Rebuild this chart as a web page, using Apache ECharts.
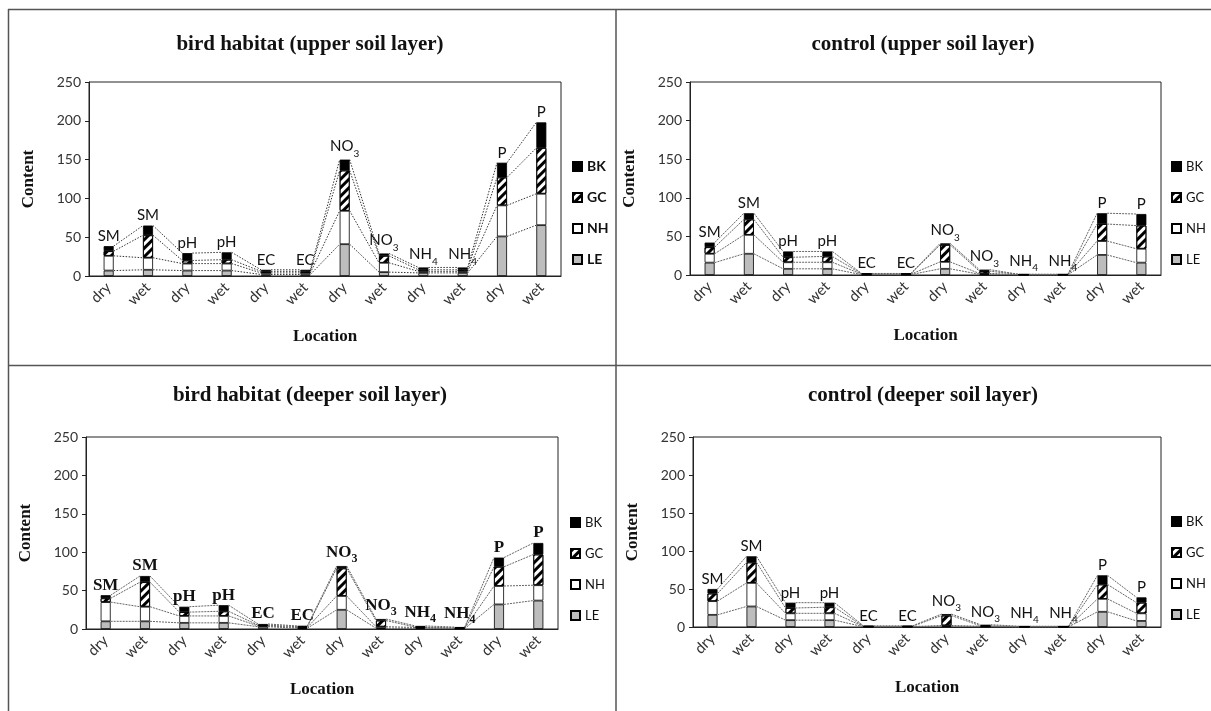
<!DOCTYPE html>
<html>
<head>
<meta charset="utf-8">
<script src="https://cdn.jsdelivr.net/npm/echarts@6/dist/echarts.min.js"></script>
<style>
html,body{margin:0;padding:0;background:#fff;}
#chart{width:1211px;height:711px;}
</style>
</head>
<body>
<div id="chart"></div>
<script>
// ---------- data ----------
const categories = ['dry','wet','dry','wet','dry','wet','dry','wet','dry','wet','dry','wet'];
const labelBase = ['SM','SM','pH','pH','EC','EC','NO','NO','NH','NH','P','P'];
const labelSub  = ['','','','','','','3','3','4','4','',''];
const seriesNames = ['LE','NH','GC','BK'];
const yMin = 0, yMax = 250, yStep = 50;

const panelTitles = [
  'bird habitat (upper soil layer)',
  'control (upper soil layer)',
  'bird habitat (deeper soil layer)',
  'control (deeper soil layer)'
];

// bird habitat, upper
const birdUpperLE = [7, 8, 7, 7, 2, 2, 41, 5, 4, 4, 51, 65.5];
const birdUpperNH = [19, 15.5, 9, 9, 2, 2, 43, 12, 2, 2, 40, 40.5];
const birdUpperGC = [6, 29, 4, 5, 2, 2, 52, 9, 2, 2, 36, 59];
const birdUpperBK = [6.5, 12.5, 9.5, 9.5, 2, 2, 14, 3, 3, 3, 19, 33];

// control, upper
const ctrlUpperLE = [16, 27.5, 8, 8, 0.5, 0.5, 8, 1, 0.3, 0.3, 26, 16];
const ctrlUpperNH = [11.5, 24.5, 8.5, 8.5, 0.5, 0.5, 9, 1, 0.2, 0.2, 18, 18];
const ctrlUpperGC = [8.5, 20, 6.5, 7.5, 0.5, 0.5, 22, 3, 0.2, 0.2, 22, 30];
const ctrlUpperBK = [6, 8, 7.5, 6.5, 0.5, 0.5, 2, 2, 0.3, 0.3, 14, 15];

// bird habitat, deeper
const birdDeepLE = [10, 10, 8, 8, 3, 1, 25, 1, 1, 0.5, 32, 37];
const birdDeepNH = [25, 19, 9, 9, 1, 1, 18, 2, 1, 0.5, 24, 20];
const birdDeepGC = [5, 32, 5, 6, 1, 1, 36, 8, 0.5, 0.5, 25, 40];
const birdDeepBK = [4, 8, 7, 8, 1.5, 1, 3, 2, 1.5, 1, 12, 15];

// control, deeper
const ctrlDeepLE = [16, 27, 9, 9, 0.3, 0.3, 1, 0.5, 0.2, 0.2, 20, 8];
const ctrlDeepNH = [18, 31, 9, 9, 0.3, 0.3, 1, 0.5, 0.2, 0.2, 17, 10];
const ctrlDeepGC = [10, 27, 7, 8, 0.3, 0.3, 13, 0.5, 0.2, 0.2, 19, 14];
const ctrlDeepBK = [6, 8, 7, 6, 0.6, 0.6, 2, 1.5, 0.4, 0.4, 12, 7];

const panelData = [
  [birdUpperLE, birdUpperNH, birdUpperGC, birdUpperBK],
  [ctrlUpperLE, ctrlUpperNH, ctrlUpperGC, ctrlUpperBK],
  [birdDeepLE, birdDeepNH, birdDeepGC, birdDeepBK],
  [ctrlDeepLE, ctrlDeepNH, ctrlDeepGC, ctrlDeepBK]
];

// ---------- layout / style ----------
const SANS = 'Lato, "Open Sans", sans-serif';
const SERIF = '"Liberation Serif", "Times New Roman", serif';
const BAR_W = 10;

const grids = [
  {left: 89,  top: 82,  width: 472, height: 194},
  {left: 690, top: 82,  width: 471, height: 193},
  {left: 86,  top: 437, width: 472, height: 192},
  {left: 693, top: 437, width: 468, height: 190}
];
const titlePos = [
  {x: 305, y: 29}, {x: 918, y: 29}, {x: 305, y: 380}, {x: 918, y: 380}
];
const legendPos = [
  {left: 572, top: 158}, {left: 1171, top: 158}, {left: 570, top: 514}, {left: 1171, top: 513}
];
const panelStyle = [
  {labelFont: SANS, labelBold: 'normal', labelSize: 15, legendBold: 'bold', legendSize: 14, lineType: [1.5, 1.5], lineColor: '#333'},
  {labelFont: SANS, labelBold: 'normal', labelSize: 15, legendBold: 'normal', legendSize: 13, lineType: [2, 1], lineColor: '#666'},
  {labelFont: SERIF, labelBold: 'bold', labelSize: 17, legendBold: 'normal', legendSize: 13, lineType: [2, 1], lineColor: '#666'},
  {labelFont: SANS, labelBold: 'normal', labelSize: 15, legendBold: 'normal', legendSize: 13, lineType: [2, 1], lineColor: '#666'}
];

const fills = {LE: '#bdbdbd', NH: '#ffffff', GC: '#ffffff', BK: '#000000'};
const gcDecal = {
  symbol: 'rect', symbolSize: 1, color: '#000',
  dashArrayX: [1, 0], dashArrayY: [3, 3], rotation: -Math.PI / 4
};

const option = {
  animation: false,
  backgroundColor: '#fff',
  textStyle: {fontFamily: SANS},
  title: [], legend: [], grid: [], xAxis: [], yAxis: [], series: [],
  graphic: [
    {type: 'line', shape: {x1: 8.5, y1: 9, x2: 8.5, y2: 711}, style: {stroke: '#555', lineWidth: 1.5}},
    {type: 'line', shape: {x1: 8, y1: 9.5, x2: 1211, y2: 9.5}, style: {stroke: '#555', lineWidth: 1.5}},
    {type: 'line', shape: {x1: 616, y1: 9, x2: 616, y2: 711}, style: {stroke: '#555', lineWidth: 1.5}},
    {type: 'line', shape: {x1: 8, y1: 365.5, x2: 1211, y2: 365.5}, style: {stroke: '#555', lineWidth: 1.5}}
  ]
};

panelData.forEach((data, p) => {
  const st = panelStyle[p];
  option.title.push({
    text: panelTitles[p], left: titlePos[p].x, top: titlePos[p].y, textAlign: 'center',
    textStyle: {fontFamily: SERIF, fontWeight: 'bold', fontSize: 21, color: '#111'}
  });
  option.grid.push(Object.assign({show: true, borderColor: '#222', borderWidth: 1, backgroundColor: '#fff'}, grids[p]));
  option.xAxis.push({
    type: 'category', gridIndex: p, data: categories,
    axisLine: {lineStyle: {color: '#222', width: 1}},
    axisTick: {show: false},
    axisLabel: {rotate: 45, fontSize: 15, color: '#333', margin: 9, fontFamily: SANS},
    name: 'Location', nameLocation: 'middle', nameGap: 52,
    nameTextStyle: {fontFamily: SERIF, fontWeight: 'bold', fontSize: 17, color: '#111'}
  });
  option.yAxis.push({
    type: 'value', gridIndex: p, min: yMin, max: yMax, interval: yStep,
    axisLine: {show: true, lineStyle: {color: '#222'}},
    axisTick: {show: true, length: 4, lineStyle: {color: '#222'}},
    splitLine: {show: false},
    axisLabel: {fontSize: 14, color: '#333', margin: 8, fontFamily: SANS},
    name: 'Content', nameLocation: 'middle', nameGap: 52, nameRotate: 90,
    nameTextStyle: {fontFamily: SERIF, fontWeight: 'bold', fontSize: 17, color: '#111'}
  });
  option.legend.push({
    data: ['BK', 'GC', 'NH', 'LE'], orient: 'vertical',
    left: legendPos[p].left, top: legendPos[p].top, padding: 0,
    itemWidth: 9, itemHeight: 9, itemGap: 14, icon: 'rect',
    textStyle: {fontFamily: SANS, fontSize: st.legendSize, fontWeight: st.legendBold, color: '#111', lineHeight: 17}
  });

  seriesNames.forEach((name, k) => {
    const s = {
      type: 'bar', name: name, stack: 'p' + p, xAxisIndex: p, yAxisIndex: p,
      barWidth: BAR_W, data: data[k],
      itemStyle: {color: fills[name], borderColor: '#000', borderWidth: 0.8},
      emphasis: {disabled: true}
    };
    if (name === 'GC') s.itemStyle.decal = gcDecal;
    if (name === 'BK') {
      s.label = {
        show: true, position: 'top', distance: 1,
        formatter: (prm) => {
          const i = prm.dataIndex;
          return '{b|' + labelBase[i] + '}' + (labelSub[i] ? '{s|' + labelSub[i] + '}' : '');
        },
        rich: {
          b: {fontFamily: st.labelFont, fontWeight: st.labelBold, fontSize: st.labelSize, color: '#111', lineHeight: 18, verticalAlign: 'middle'},
          s: {fontFamily: st.labelFont, fontWeight: st.labelBold, fontSize: Math.round(st.labelSize * 0.68), color: '#111', lineHeight: 24, verticalAlign: 'bottom'}
        }
      };
    }
    option.series.push(s);
  });

  // series connector lines between adjacent stacked bars
  option.series.push({
    type: 'custom', name: 'connectors' + p, xAxisIndex: p, yAxisIndex: p, silent: true, z: 1,
    data: categories.slice(0, -1).map((c, i) => [i, 0]),
    renderItem: (params, api) => {
      const i = api.value(0);
      let c0 = 0, c1 = 0;
      const children = [];
      for (let k = 0; k < 4; k++) {
        c0 += data[k][i];
        c1 += data[k][i + 1];
        const a = api.coord([i, c0]);
        const b = api.coord([i + 1, c1]);
        children.push({
          type: 'line',
          shape: {x1: a[0] + BAR_W / 2, y1: a[1], x2: b[0] - BAR_W / 2, y2: b[1]},
          style: {stroke: st.lineColor, lineWidth: 1, lineDash: st.lineType}
        });
      }
      return {type: 'group', children: children};
    }
  });
});

const chart = echarts.init(document.getElementById('chart'), null, {renderer: 'canvas'});
chart.setOption(option);
</script>
</body>
</html>
